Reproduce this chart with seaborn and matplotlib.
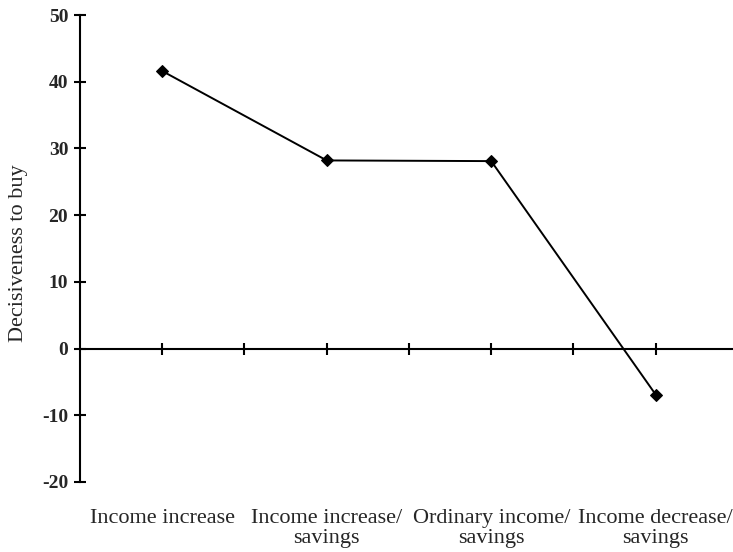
import matplotlib
matplotlib.use("Agg")
import matplotlib.pyplot as plt
import matplotlib.transforms as mtransforms
import numpy as np
import pandas as pd
import seaborn as sns

# ---- Data ----
categories = ['Income increase', 'Income increase/\nsavings',
              'Ordinary income/\nsavings', 'Income decrease/\nsavings']
decisiveness = [41.6, 28.2, 28.1, -6.9]
y_ticks = [-20, -10, 0, 10, 20, 30, 40, 50]

df = pd.DataFrame({'pos': np.arange(len(categories)), 'value': decisiveness})

sns.set_style('white')
plt.rcParams['font.family'] = ['Liberation Serif', 'DejaVu Serif']

fig = plt.figure(figsize=(7.33, 5.52), dpi=100)
ax = fig.add_axes([80 / 733, 1 - 482 / 552, 653 / 733, 467 / 552])

sns.lineplot(data=df, x='pos', y='value', ax=ax, color='black',
             linewidth=1.4, marker='D', markersize=6,
             markeredgecolor='black', markerfacecolor='black')

ax.set_xlim(-0.5, 3.47)
ax.set_ylim(-20, 50)

# y axis
ax.set_yticks(y_ticks)
ax.set_yticklabels([str(t) for t in y_ticks], fontweight='bold', fontsize=14)
ax.tick_params(axis='y', left=True, direction='inout', length=9, width=1.5,
               pad=4, color='black')

# x axis sits at y = 0, ticks at category centres and boundaries
ax.spines['bottom'].set_position(('data', 0))
ax.set_xticks(np.arange(0, 3.01, 0.5))
ax.set_xticklabels([])
ax.tick_params(axis='x', bottom=True, direction='inout', length=9,
               width=1.5, color='black')

for side in ['top', 'right']:
    ax.spines[side].set_visible(False)
for side in ['left', 'bottom']:
    ax.spines[side].set_linewidth(1.5)
    ax.spines[side].set_color('black')

# category labels below the plot
trans = mtransforms.blended_transform_factory(ax.transData, ax.transAxes)
for i, label in enumerate(categories):
    ax.text(i, -0.058, label, transform=trans, ha='center', va='top',
            fontsize=16, linespacing=1.1)

ax.set_xlabel('')
ax.set_ylabel('Decisiveness to buy', fontsize=16)
ax.yaxis.set_label_coords(-0.08, 0.49)

plt.savefig('out.png', dpi=100)
